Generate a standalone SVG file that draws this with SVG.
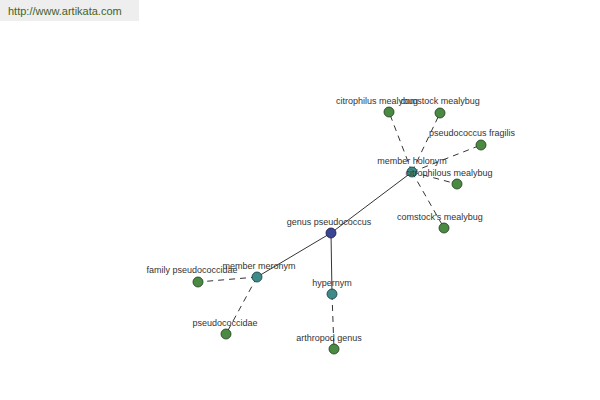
<svg xmlns="http://www.w3.org/2000/svg" width="600" height="400" viewBox="0 0 600 400">
<style>
.lbl{font-family:"Liberation Sans",Arial,sans-serif;font-size:9px;fill:#333;text-anchor:middle}
.solid{stroke:#000;stroke-width:0.8;fill:none}
.dash{stroke:#000;stroke-width:0.8;fill:none;stroke-dasharray:6,5}
.leaf{fill:#4a8a42;stroke:#1e3a1a;stroke-width:0.8}
.rel{fill:#3d8a8a;stroke:#1a3a3a;stroke-width:0.8}
.root{fill:#3b4496;stroke:#161a40;stroke-width:0.8}
</style>
<rect width="600" height="400" fill="#fff"/>
<g id="header">
<rect x="0" y="0" width="139" height="21" fill="#eeeeee"/>
<text x="8" y="15" style="font-family:'Liberation Sans',Arial,sans-serif;font-size:11px;fill:#44622a">http://www.artikata.com</text>
</g>
<g id="connectors">
<line class="solid" x1="331" y1="233" x2="412" y2="172"/>
<line class="solid" x1="331" y1="233" x2="257" y2="277"/>
<line class="solid" x1="331" y1="233" x2="332" y2="294"/>
<line class="dash" x1="412" y1="172" x2="389" y2="112"/>
<line class="dash" x1="412" y1="172" x2="440" y2="113"/>
<line class="dash" x1="412" y1="172" x2="481" y2="145"/>
<line class="dash" x1="412" y1="172" x2="457" y2="184"/>
<line class="dash" x1="412" y1="172" x2="444" y2="228"/>
<line class="dash" x1="257" y1="277" x2="198" y2="282"/>
<line class="dash" x1="257" y1="277" x2="226" y2="334"/>
<line class="dash" x1="332" y1="294" x2="334" y2="349"/>
</g>
<g id="n-genus"><circle class="root" cx="331" cy="233" r="5"/><text class="lbl" x="329" y="225">genus pseudococcus</text></g>
<g id="n-member-holonym"><circle class="rel" cx="412" cy="172" r="5"/><text class="lbl" x="412" y="164">member holonym</text></g>
<g id="n-member-meronym"><circle class="rel" cx="257" cy="277" r="5"/><text class="lbl" x="259" y="269">member meronym</text></g>
<g id="n-hypernym"><circle class="rel" cx="332" cy="294" r="5"/><text class="lbl" x="332" y="286">hypernym</text></g>
<g id="n-citrophilus-top"><circle class="leaf" cx="389" cy="112" r="5"/><text class="lbl" x="377" y="104">citrophilus mealybug</text></g>
<g id="n-comstock"><circle class="leaf" cx="440" cy="113" r="5"/><text class="lbl" x="440" y="104">comstock mealybug</text></g>
<g id="n-fragilis"><circle class="leaf" cx="481" cy="145" r="5"/><text class="lbl" x="472" y="136">pseudococcus fragilis</text></g>
<g id="n-citrophilous"><circle class="leaf" cx="457" cy="184" r="5"/><text class="lbl" x="449" y="176">citrophilous mealybug</text></g>
<g id="n-comstocks"><circle class="leaf" cx="444" cy="228" r="5"/><text class="lbl" x="440" y="220">comstock's mealybug</text></g>
<g id="n-family"><circle class="leaf" cx="198" cy="282" r="5"/><text class="lbl" x="192" y="273">family pseudococcidae</text></g>
<g id="n-pseudococcidae"><circle class="leaf" cx="226" cy="334" r="5"/><text class="lbl" x="225" y="326">pseudococcidae</text></g>
<g id="n-arthropod"><circle class="leaf" cx="334" cy="349" r="5"/><text class="lbl" x="329" y="341">arthropod genus</text></g>
</svg>
